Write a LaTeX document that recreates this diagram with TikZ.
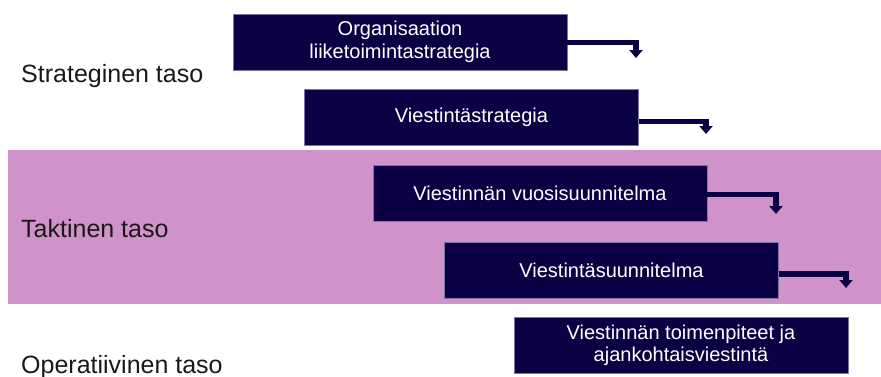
\documentclass[tikz,border=0pt]{standalone}
\usepackage{fontspec}
\setmainfont{Liberation Sans}
\usetikzlibrary{arrows.meta}
\definecolor{navy}{RGB}{12,0,68}
\definecolor{bandpink}{RGB}{207,146,201}
\definecolor{boxedge}{RGB}{125,115,165}
\definecolor{labeltext}{RGB}{25,25,25}

\begin{document}
\begin{tikzpicture}[x=1pt,y=-1pt,
  stepbox/.style={draw=boxedge, line width=0.8pt, fill=navy, text=white,
    inner sep=0pt, outer sep=0pt, anchor=north west,
    minimum width=334pt, minimum height=56pt, align=center,
    font=\fontsize{20}{22.5}\selectfont},
  level/.style={anchor=base west, inner sep=0pt,
    font=\fontsize{25}{28}\selectfont, text=labeltext},
  flow/.style={draw=navy, line width=5.2pt, line join=miter,
    -{Triangle[width=13pt,length=8pt]}}]

\useasboundingbox (0,0) rectangle (881,376);

% tactical level band
\fill[bandpink] (8,150) rectangle (881,304);

% level labels
\node[level] (lstrat) at (21,82) {Strateginen taso};
\node[level] (ltakt) at (21,237.5) {Taktinen taso};
\node[level] (loper) at (21,373.5) {Operatiivinen taso};

% cascade of plans
\node[stepbox] (b1) at (233,14) {Organisaation\\liiketoimintastrategia};
\node[stepbox] (b2) at (304.5,89.5) {Viestintästrategia};
\node[stepbox] (b3) at (373,165) {Viestinnän vuosisuunnitelma};
\node[stepbox] (b4) at (444.5,242) {Viestintäsuunnitelma};
\node[stepbox] (b5) at (514,317.5) {Viestinnän toimenpiteet ja\\ajankohtaisviestintä};

% arrow end points
\coordinate (t1) at (636,58);
\coordinate (t2) at (706,134);
\coordinate (t3) at (776,214);
\coordinate (t4) at (846,288);

\draw[flow] ([yshift=-0.5pt]b1.east) -| (t1);
\draw[flow] ([yshift=-4pt]b2.east) -| (t2);
\draw[flow] ([yshift=-1.5pt]b3.east) -| (t3);
\draw[flow] ([yshift=-4pt]b4.east) -| (t4);
\end{tikzpicture}
\end{document}
